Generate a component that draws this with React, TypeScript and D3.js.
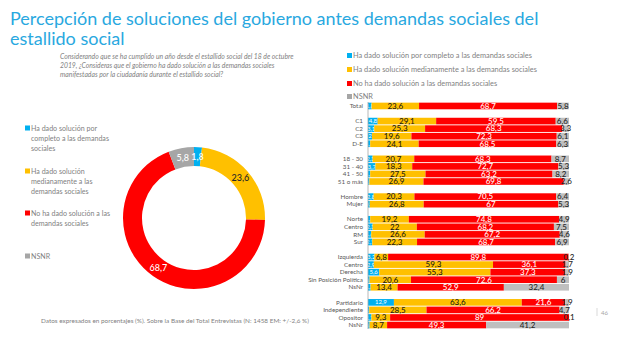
import React from "react";
import * as d3 from "d3";

const W = 630;
const H = 356;

const titleLines = [
  "Percepción de soluciones del gobierno antes demandas sociales  del",
  "estallido social",
];
const questionLines = [
  "Considerando que se ha cumplido un año desde el estallido social del 18 de octubre",
  "2019, ¿Consideras que el gobierno ha dado solución a las demandas sociales",
  "manifestadas por la ciudadanía durante el estallido social?",
];
const seriesNames = [
  "Ha dado solución por completo a las demandas sociales",
  "Ha dado solución medianamente a las demandas sociales",
  "No ha dado solución a las demandas sociales",
  "NSNR",
];
const leftLegendLines = [
  ["Ha dado solución por", "completo a las demandas", "sociales"],
  ["Ha dado solución", "medianamente a las", "demandas sociales"],
  ["No ha dado solución a las", "demandas sociales"],
  ["NSNR"],
];
const colors = ["#00b0f0", "#ffc000", "#ff0000", "#bfbfbf"];
const donutColors = ["#00b0f0", "#ffc000", "#ff0000", "#a6a6a6"];

const totalValues = [1.8, 23.6, 68.7, 5.8];

const rowLabels = [
  "Total", "",
  "C1", "C2", "C3", "D-E", "",
  "18 - 30", "31 - 40", "41 - 50", "51 o más", "",
  "Hombre", "Mujer", "",
  "Norte", "Centro", "RM", "Sur", "",
  "Izquierda", "Centro", "Derecha", "Sin Posición Política", "NsNr", "",
  "Partidario", "Independiente", "Opositor", "NsNr",
];
const completo = [
  1.8, null,
  4.8, 3.1, 2.0, 1.1, null,
  2.3, 3.7, 1.1, 0.7, null,
  2.8, 0.9, null,
  1.1, 2.3, 1.6, 2.1, null,
  3.2, 2.9, 5.6, 0.8, 1.3, null,
  12.9, 0.6, 1.7, 0.8,
];
const medianamente = [
  23.6, null,
  29.1, 25.3, 19.6, 24.1, null,
  20.7, 18.3, 27.5, 26.9, null,
  20.3, 26.8, null,
  19.2, 22, 26.6, 22.3, null,
  6.8, 59.3, 55.3, 20.6, 13.4, null,
  63.6, 28.5, 9.3, 8.7,
];
const noSolucion = [
  68.7, null,
  59.5, 68.3, 72.3, 68.5, null,
  68.3, 72.7, 63.2, 69.8, null,
  70.5, 67, null,
  74.8, 68.2, 67.2, 68.7, null,
  89.8, 36.1, 37.3, 72.6, 52.9, null,
  21.6, 66.2, 89, 49.3,
];
const nsnr = [
  5.8, null,
  6.6, 3.3, 6.1, 6.3, null,
  8.7, 5.3, 8.2, 2.6, null,
  6.4, 5.3, null,
  4.9, 7.5, 4.6, 6.9, null,
  0.2, 1.7, 1.9, 6, 32.4, null,
  1.9, 4.7, 0.1, 41.2,
];

const footerText =
  "Datos expresados en porcentajes (%). Sobre la Base del Total Entrevistas (N: 1458  EM: +/-2,6 %)";
const pageNumber = "46";

const fmt = (v: number) => String(Math.round(v * 10) / 10).replace(".", ",");
const FONT = "Lato, 'Open Sans', sans-serif";

export default function App() {
  // Bars
  const x = d3.scaleLinear().domain([0, 100]).range([368, 569]);
  const y = d3
    .scaleBand<number>()
    .domain(rowLabels.map((_, i) => i))
    .range([102.2, 328.8])
    .paddingInner(0.12)
    .paddingOuter(0.06);

  const series = [completo, medianamente, noSolucion, nsnr];
  const labelColors = ["#ffffff", "#1a1a1a", "#ffffff", "#262626"];

  const barMarks: React.ReactNode[] = [];
  rowLabels.forEach((lab, i) => {
    if (completo[i] == null) return;
    let acc = 0;
    series.forEach((s, k) => {
      const v = s[i] as number;
      const x0 = x(acc);
      const x1 = x(acc + v);
      acc += v;
      barMarks.push(
        <rect
          key={`r${i}-${k}`}
          x={x0}
          y={y(i)}
          width={Math.max(0, x1 - x0)}
          height={y.bandwidth()}
          fill={colors[k]}
        />
      );
      barMarks.push(
        <text
          key={`t${i}-${k}`}
          x={(x0 + x1) / 2}
          y={(y(i) as number) + y.bandwidth() / 2}
          dy="0.35em"
          textAnchor="middle"
          fontSize={k === 0 ? 6 : 8}
          fontWeight={k === 0 ? 400 : 500}
          fill={labelColors[k]}
        >
          {fmt(v)}
        </text>
      );
    });
  });

  // Donut
  const cx = 194;
  const cy = 218;
  const pie = d3.pie<number>().sort(null).value((d) => d);
  const arcs = pie(totalValues);
  const arc = d3.arc<d3.PieArcDatum<number>>().innerRadius(52).outerRadius(71);
  const labelArc = d3.arc<d3.PieArcDatum<number>>().innerRadius(61.5).outerRadius(61.5);
  const donutLabelColors = ["#ffffff", "#262626", "#ffffff", "#ffffff"];

  const legendRightY = [58, 72, 86, 99];
  const leftLegendY = [131, 174, 216, 259];

  return (
    <svg
      width={W}
      height={H}
      style={{ position: "absolute", left: 0, top: 0, background: "#fff" }}
      fontFamily={FONT}
    >
      {titleLines.map((t, i) => (
        <text key={t} x={10} y={25 + i * 19.5} fontSize={18} fill="#29a8e0">
          {t}
        </text>
      ))}
      {questionLines.map((t, i) => (
        <text
          key={t}
          x={60}
          y={59 + i * 8.8}
          fontSize={6.8}
          fontStyle="italic"
          fill="#7f7f7f"
        >
          {t}
        </text>
      ))}

      {/* right legend */}
      {seriesNames.map((n, i) => (
        <g key={n}>
          <rect x={347} y={legendRightY[i] - 5} width={5} height={5} fill={donutColors[i]} />
          <text x={353} y={legendRightY[i]} fontSize={7.4} fill="#7f7f7f">
            {n}
          </text>
        </g>
      ))}

      {/* left legend */}
      {leftLegendLines.map((lines, i) => (
        <g key={i}>
          <rect x={25} y={leftLegendY[i] - 5.5} width={5} height={5} fill={donutColors[i]} />
          {lines.map((l, j) => (
            <text key={j} x={31} y={leftLegendY[i] + j * 10} fontSize={7.1} fill="#7f7f7f">
              {l}
            </text>
          ))}
        </g>
      ))}

      {/* donut */}
      <g transform={`translate(${cx},${cy})`}>
        {arcs.map((a, i) => (
          <path key={i} d={arc(a) as string} fill={donutColors[i]} />
        ))}
        {arcs.map((a, i) => {
          const [lx, ly] = labelArc.centroid(a);
          return (
            <text
              key={`l${i}`}
              x={lx}
              y={ly}
              dy="0.35em"
              textAnchor="middle"
              fontSize={9}
              fontWeight={500}
              fill={donutLabelColors[i]}
            >
              {fmt(totalValues[i])}
            </text>
          );
        })}
      </g>

      {/* bars */}
      {barMarks}
      <line x1={368} x2={368} y1={102} y2={329} stroke="#a6a6a6" strokeWidth={0.8} />
      {rowLabels.map((lab, i) =>
        lab ? (
          <text
            key={`y${i}`}
            x={363}
            y={(y(i) as number) + y.bandwidth() / 2}
            dy="0.35em"
            textAnchor="end"
            fontSize={6.3}
            fill="#595959"
          >
            {lab}
          </text>
        ) : null
      )}

      <text x={41} y={323} fontSize={6.4} fill="#7f7f7f">
        {footerText}
      </text>
      <line x1={597} x2={597} y1={308} y2={316} stroke="#bfbfbf" strokeWidth={0.6} />
      <text x={601} y={315} fontSize={6} fill="#a6a6a6">
        {pageNumber}
      </text>
    </svg>
  );
}
